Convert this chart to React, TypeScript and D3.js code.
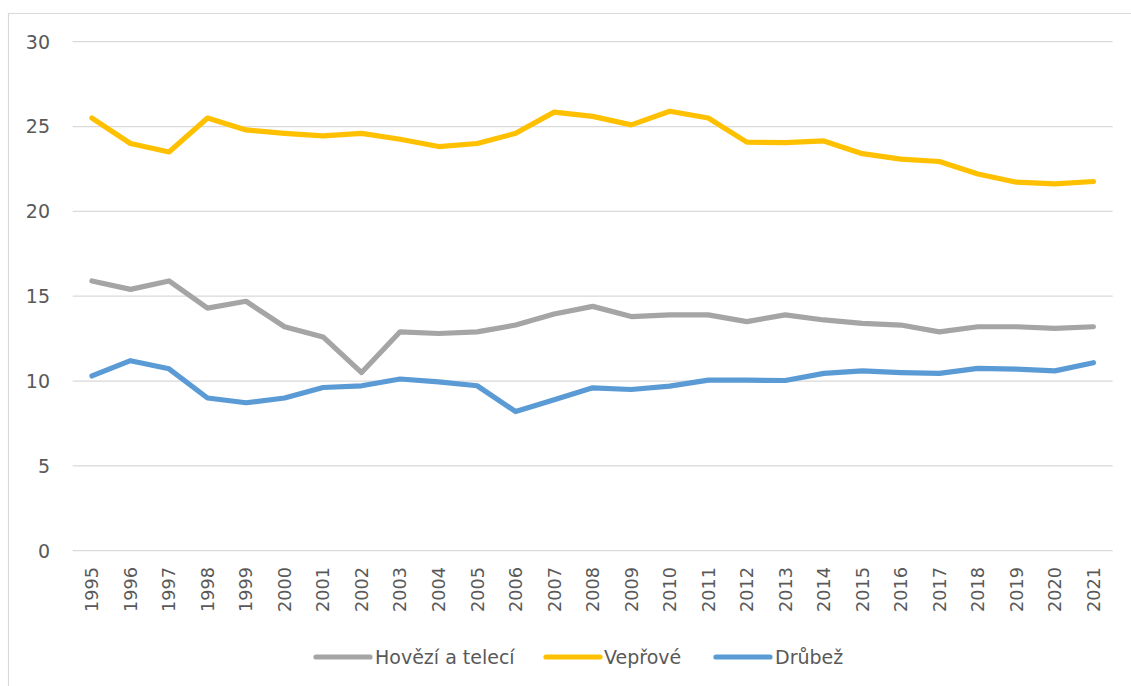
import React from "react";
import * as d3 from "d3";

const years = ["1995","1996","1997","1998","1999","2000","2001","2002","2003","2004","2005","2006","2007","2008","2009","2010","2011","2012","2013","2014","2015","2016","2017","2018","2019","2020","2021"];
const hovezi = [15.9,15.4,15.9,14.3,14.7,13.2,12.6,10.5,12.9,12.8,12.9,13.3,13.95,14.4,13.8,13.9,13.9,13.5,13.9,13.6,13.4,13.3,12.9,13.2,13.2,13.1,13.2];
const veprove = [25.5,24.0,23.5,25.5,24.8,24.6,24.45,24.6,24.25,23.82,24.0,24.6,25.85,25.6,25.1,25.9,25.5,24.08,24.05,24.15,23.4,23.08,22.94,22.2,21.72,21.62,21.76];
const drubez = [10.3,11.2,10.72,9.0,8.72,9.0,9.62,9.72,10.12,9.95,9.72,8.2,8.9,9.6,9.5,9.7,10.05,10.05,10.03,10.45,10.6,10.5,10.45,10.75,10.7,10.6,11.08];
const yTicks = [0,5,10,15,20,25,30];
const seriesNames = ["Hovězí a telecí","Vepřové","Drůbež"];
const seriesColors = ["#A5A5A5","#FFC000","#5B9BD5"];

export default function App() {
  const W = 1131, H = 686;
  const left = 72.7, right = 1112.7, top = 41.7, bottom = 550.7;
  const x = d3.scaleBand<string>().domain(years).range([left, right]);
  const y = d3.scaleLinear().domain([0, 30]).range([bottom, top]);
  const cx = (yr: string) => (x(yr) as number) + x.bandwidth() / 2;
  const line = d3.line<number>().x((_, i) => cx(years[i])).y(d => y(d));
  const data = [hovezi, veprove, drubez];
  const font = "'DejaVu Sans', sans-serif";
  const legendItems = [
    { lx: 316, tx: 375 },
    { lx: 546, tx: 604 },
    { lx: 716, tx: 775 },
  ];
  const legY = 657;
  return (
    <svg width={W} height={H} style={{ position: "absolute", left: 0, top: 0, background: "#fff" }}>
      <rect x={0} y={0} width={W} height={H} fill="#fff" />
      <path d={`M8.5,${H + 5} L8.5,13.5 L${W + 5},13.5`} fill="none" stroke="#D9D9D9" strokeWidth={1.2} />
      {yTicks.map(t => (
        <g key={t}>
          <line x1={left} x2={right} y1={y(t)} y2={y(t)} stroke="#D9D9D9" strokeWidth={1.3} />
          <text x={50} y={y(t)} dy="0.36em" textAnchor="end" fontFamily={font} fontSize={19} fill="#595959">{t}</text>
        </g>
      ))}
      {years.map(yr => (
        <text key={yr} transform={`translate(${cx(yr)},567) rotate(-90)`} dy="0.36em" textAnchor="end" fontFamily={font} fontSize={17.7} fill="#595959">{yr}</text>
      ))}
      {data.map((d, i) => (
        <path key={i} d={line(d) || ""} fill="none" stroke={seriesColors[i]} strokeWidth={5.2} strokeLinejoin="round" strokeLinecap="round" />
      ))}
      {seriesNames.map((n, i) => (
        <g key={n}>
          <line x1={legendItems[i].lx} x2={legendItems[i].lx + 54} y1={legY} y2={legY} stroke={seriesColors[i]} strokeWidth={5.2} strokeLinecap="round" />
          <text x={legendItems[i].tx} y={legY} dy="0.36em" fontFamily={font} fontSize={19} fill="#595959">{n}</text>
        </g>
      ))}
    </svg>
  );
}
